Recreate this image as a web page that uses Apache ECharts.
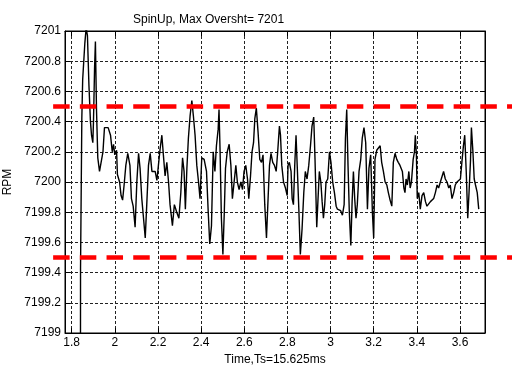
<!DOCTYPE html>
<html>
<head>
<meta charset="utf-8">
<script src="https://cdn.jsdelivr.net/npm/echarts@6/dist/echarts.min.js"></script>
<style>
  html, body { margin: 0; padding: 0; background: #fff; }
  #peak { width: 512px; height: 365px; }
</style>
</head>
<body>
<div id="peak"></div>
<script>
// 时间 (s)
const times = [
  1.766, 1.840, 1.841, 1.847, 1.851, 1.861, 1.867, 1.873, 1.880, 1.887, 1.892, 1.898, 1.901, 1.906, 1.910, 1.915,
  1.921, 1.929, 1.938, 1.945, 1.952, 1.969, 1.980, 1.988, 1.994, 2.000, 2.008, 2.012, 2.022, 2.029, 2.036, 2.043,
  2.051, 2.060, 2.070, 2.077, 2.085, 2.094, 2.102, 2.110, 2.117, 2.125, 2.133, 2.141, 2.148, 2.156, 2.164, 2.172,
  2.187, 2.195, 2.202, 2.210, 2.218, 2.225, 2.233, 2.241, 2.249, 2.256, 2.267, 2.276, 2.287, 2.297, 2.306, 2.314,
  2.321, 2.327, 2.334, 2.341, 2.349, 2.357, 2.364, 2.372, 2.380, 2.388, 2.395, 2.403, 2.414, 2.425, 2.433, 2.440,
  2.448, 2.456, 2.464, 2.471, 2.479, 2.483, 2.488, 2.494, 2.501, 2.507, 2.513, 2.521, 2.530, 2.538, 2.545, 2.553,
  2.561, 2.568, 2.576, 2.584, 2.592, 2.599, 2.607, 2.615, 2.621, 2.629, 2.636, 2.643, 2.649, 2.656, 2.664, 2.672,
  2.680, 2.687, 2.695, 2.703, 2.711, 2.717, 2.724, 2.732, 2.740, 2.748, 2.755, 2.763, 2.768, 2.774, 2.782, 2.791,
  2.799, 2.803, 2.809, 2.817, 2.822, 2.828, 2.834, 2.840, 2.846, 2.853, 2.860, 2.868, 2.876, 2.883, 2.891, 2.899,
  2.907, 2.914, 2.922, 2.928, 2.936, 2.942, 2.948, 2.955, 2.961, 2.967, 2.973, 2.979, 2.987, 2.995, 3.002, 3.010,
  3.018, 3.026, 3.032, 3.040, 3.047, 3.055, 3.063, 3.069, 3.075, 3.081, 3.087, 3.094, 3.100, 3.106, 3.112, 3.118,
  3.124, 3.132, 3.140, 3.147, 3.155, 3.163, 3.171, 3.178, 3.186, 3.194, 3.200, 3.206, 3.214, 3.223, 3.230, 3.237,
  3.245, 3.253, 3.261, 3.268, 3.276, 3.284, 3.291, 3.299, 3.307, 3.314, 3.322, 3.333, 3.340, 3.345, 3.350, 3.356,
  3.363, 3.369, 3.375, 3.383, 3.389, 3.393, 3.398, 3.402, 3.409, 3.416, 3.424, 3.432, 3.440, 3.447, 3.455, 3.463,
  3.471, 3.478, 3.486, 3.494, 3.501, 3.509, 3.517, 3.524, 3.532, 3.540, 3.548, 3.555, 3.563, 3.571, 3.578, 3.586,
  3.594, 3.602, 3.610, 3.616, 3.622, 3.629, 3.636, 3.642, 3.649, 3.653, 3.660, 3.666, 3.672, 3.680, 3.687
];
// 转速 (RPM)
const rpm = [
  7170.00, 7197.00, 7199.43, 7200.42, 7200.68, 7200.92, 7201.02, 7200.97, 7200.64, 7200.40, 7200.31, 7200.26, 7200.40, 7200.75, 7200.93, 7200.48,
  7200.16, 7200.07, 7200.07, 7200.20, 7200.36, 7200.36, 7200.31, 7200.20, 7200.25, 7200.18, 7200.21, 7200.05, 7200.00, 7199.91, 7199.88, 7199.98,
  7200.11, 7200.19, 7200.11, 7199.89, 7199.84, 7199.70, 7200.00, 7200.19, 7200.09, 7199.89, 7199.76, 7199.63, 7199.85, 7200.11, 7200.19, 7200.07,
  7200.07, 7200.01, 7200.11, 7200.22, 7200.31, 7200.18, 7200.04, 7200.13, 7200.00, 7199.85, 7199.71, 7199.85, 7199.80, 7199.76, 7199.93, 7200.16,
  7200.07, 7199.82, 7200.09, 7200.29, 7200.44, 7200.54, 7200.44, 7200.31, 7200.11, 7200.00, 7199.89, 7200.16, 7200.15, 7200.07, 7199.80, 7199.59,
  7199.71, 7200.20, 7200.07, 7200.24, 7200.35, 7200.48, 7200.20, 7199.76, 7199.52, 7199.78, 7200.09, 7200.20, 7200.25, 7200.11, 7199.89, 7200.00,
  7200.11, 7200.00, 7199.95, 7200.00, 7199.95, 7200.07, 7200.11, 7200.02, 7199.89, 7200.04, 7200.20, 7200.26, 7200.42, 7200.49, 7200.33, 7200.15,
  7200.13, 7200.18, 7199.85, 7199.63, 7199.91, 7200.11, 7200.19, 7200.13, 7200.11, 7200.07, 7200.20, 7200.37, 7200.31, 7200.11, 7200.00, 7199.96,
  7199.91, 7200.11, 7200.13, 7200.07, 7199.89, 7199.85, 7200.11, 7200.31, 7200.09, 7199.82, 7199.52, 7199.69, 7199.93, 7200.07, 7200.02, 7200.11,
  7200.24, 7200.37, 7200.43, 7200.15, 7199.70, 7199.89, 7200.07, 7200.00, 7199.87, 7199.76, 7199.85, 7200.00, 7200.02, 7200.20, 7200.13, 7200.00,
  7199.93, 7199.84, 7199.82, 7199.82, 7199.81, 7199.78, 7199.85, 7200.29, 7200.48, 7200.11, 7199.80, 7199.58, 7199.87, 7200.07, 7199.89, 7199.76,
  7199.85, 7200.07, 7200.15, 7200.29, 7200.36, 7200.26, 7199.82, 7200.09, 7200.18, 7199.80, 7199.63, 7200.15, 7200.21, 7200.20, 7200.24, 7200.13,
  7200.07, 7200.00, 7199.98, 7199.93, 7199.88, 7199.84, 7200.13, 7200.19, 7200.15, 7200.13, 7200.11, 7200.07, 7199.96, 7199.93, 7200.02, 7199.98,
  7200.07, 7199.96, 7200.00, 7200.15, 7200.20, 7200.31, 7200.18, 7199.89, 7199.93, 7199.82, 7199.91, 7199.93, 7199.87, 7199.84, 7199.85, 7199.87,
  7199.88, 7199.89, 7199.93, 7199.98, 7199.96, 7200.00, 7200.00, 7200.07, 7200.02, 7200.00, 7199.96, 7199.98, 7199.89, 7199.93, 7199.98, 7200.00,
  7200.00, 7200.02, 7200.15, 7200.24, 7200.31, 7200.07, 7199.76, 7199.93, 7200.15, 7200.36, 7200.20, 7200.02, 7199.98, 7199.93, 7199.82
];
// 限值线
const limitTimes = [1.714, 3.9];
const upperLimit = [7200.5, 7200.5];
const lowerLimit = [7199.5, 7199.5];

// 坐标轴范围
const xMin = 1.769;
const xMax = 3.716;
const xStep = 0.2;
const yMin = 7199;
const yMax = 7201;
const yStep = 0.2;

const titleText = 'SpinUp, Max Oversht= 7201';
const xName = 'Time,Ts=15.625ms';
const yName = 'RPM';

const font = 'Liberation Sans, Arial, sans-serif';
const gridLeft = 65, gridRight = 27, gridTop = 31, gridBottom = 32;
const chartWidth = 512;
// 全宽网格与主网格同比例
const pxPerUnit = (chartWidth - gridLeft - gridRight) / (xMax - xMin);
const fullMin = xMin - gridLeft / pxPerUnit;
const fullMax = xMax + gridRight / pxPerUnit;

const peak = echarts.init(document.querySelector('#peak'));

const dotted = { color: '#222', type: [3, 2], width: 1 };
const blackLine = { lineStyle: { color: '#000', width: 1 } };
const inTick = { show: true, inside: true, length: 5, lineStyle: { color: '#000' } };
// 限值线样式
const limitStyle = { color: '#ff0000', width: 4.5, type: [16.5, 10.2] };

const option = {
  animation: false,
  backgroundColor: '#fff',
  textStyle: { fontFamily: font, color: '#000' },
  title: {
    text: titleText,
    left: 128,
    top: 9,
    textStyle: { fontSize: 12, fontWeight: 'normal', color: '#000', fontFamily: font },
  },
  grid: [
    {
      left: gridLeft, right: gridRight, top: gridTop, bottom: gridBottom,
      outerBoundsMode: 'none',
      show: true, borderColor: '#000', borderWidth: 1,
    },
    { left: 0, right: 0, top: gridTop, bottom: gridBottom, outerBoundsMode: 'none' },
  ],
  xAxis: [
    {
      type: 'value', gridIndex: 0, min: xMin, max: xMax,
      splitNumber: 10, minInterval: xStep, maxInterval: xStep,
      axisLine: blackLine,
      axisTick: inTick,
      axisLabel: { color: '#000', fontSize: 12, margin: 4, showMinLabel: false, showMaxLabel: false, fontFamily: font },
      splitLine: { show: true, lineStyle: dotted },
      name: xName, nameLocation: 'middle', nameGap: 19,
      nameTextStyle: { fontSize: 12, color: '#000', fontFamily: font },
    },
    {
      type: 'value', gridIndex: 0, position: 'top', min: xMin, max: xMax,
      splitNumber: 10, minInterval: xStep, maxInterval: xStep,
      axisLine: blackLine, axisTick: inTick,
      axisLabel: { show: false }, splitLine: { show: false },
    },
    { type: 'value', gridIndex: 1, min: fullMin, max: fullMax, show: false },
  ],
  yAxis: [
    {
      type: 'value', gridIndex: 0, min: yMin, max: yMax, interval: yStep,
      axisLine: { show: true, lineStyle: { color: '#000', width: 1 } },
      axisTick: inTick,
      axisLabel: {
        color: '#000', fontSize: 12, margin: 4, fontFamily: font,
        formatter: (v) => String(parseFloat(v.toFixed(1))),
      },
      splitLine: { show: true, lineStyle: dotted },
      name: yName, nameLocation: 'middle', nameGap: 47, nameRotate: 90,
      nameTextStyle: { fontSize: 12, color: '#000', fontFamily: font },
    },
    {
      type: 'value', gridIndex: 0, position: 'right', min: yMin, max: yMax, interval: yStep,
      axisLine: { show: true, lineStyle: { color: '#000', width: 1 } },
      axisTick: inTick,
      axisLabel: { show: false }, splitLine: { show: false },
    },
    { type: 'value', gridIndex: 1, min: yMin, max: yMax, show: false },
  ],
  series: [
    {
      type: 'line',
      xAxisIndex: 0, yAxisIndex: 0,
      data: times.map((t, i) => [t, rpm[i]]),
      showSymbol: false,
      lineStyle: { color: '#000', width: 1.4 },
      z: 3,
    },
    {
      type: 'line',
      xAxisIndex: 2, yAxisIndex: 2,
      data: limitTimes.map((t, i) => [t, upperLimit[i]]),
      showSymbol: false,
      lineStyle: limitStyle,
      z: 4,
    },
    {
      type: 'line',
      xAxisIndex: 2, yAxisIndex: 2,
      data: limitTimes.map((t, i) => [t, lowerLimit[i]]),
      showSymbol: false,
      lineStyle: limitStyle,
      z: 4,
    },
  ],
};

peak.setOption(option, true);
</script>
</body>
</html>
